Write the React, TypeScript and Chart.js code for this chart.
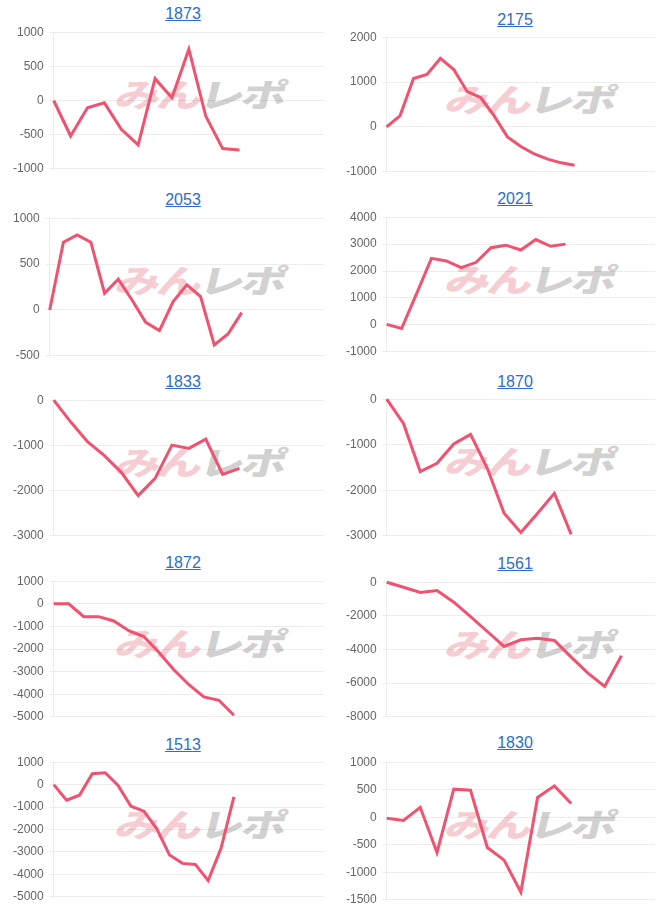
import React, { useEffect, useRef } from "react";
import { Chart, registerables } from "chart.js";

Chart.register(...registerables);

// ---------- data ----------
const labels17 = ["1","2","3","4","5","6","7","8","9","10","11","12","13","14","15","16","17"];
const labels19 = ["1","2","3","4","5","6","7","8","9","10","11","12","13","14","15","16","17","18","19"];
const labels21 = ["1","2","3","4","5","6","7","8","9","10","11","12","13","14","15","16","17","18","19","20","21"];
const labels22 = ["1","2","3","4","5","6","7","8","9","10","11","12","13","14","15","16","17","18","19","20","21","22"];

const titles = ["1873", "2175", "2053", "2021", "1833", "1870", "1872", "1561", "1513", "1830"];

const values1873 = [0, -520, -107, -34, -422, -650, 320, 40, 752, -228, -704, -723];
const values2175 = [0, 252, 1080, 1170, 1527, 1280, 786, 656, 252, -221, -435, -603, -717, -800, -855];
const values2053 = [0, 738, 818, 738, 182, 335, 109, -135, -225, 91, 273, 145, -382, -262, -29];
const values2021 = [20, -135, 1150, 2470, 2375, 2130, 2325, 2865, 2960, 2780, 3170, 2920, 3000];
const values1833 = [0, -478, -919, -1228, -1596, -2110, -1728, -993, -1066, -860, -1640, -1507];
const values1870 = [0, -533, -1590, -1408, -985, -774, -1518, -2504, -2927, -2504, -2066, -2970];
const values1872 = [0, 0, -570, -570, -760, -1190, -1450, -2140, -2920, -3580, -4120, -4270, -4930];
const values1561 = [0, -297, -614, -495, -1188, -2040, -2930, -3820, -3425, -3330, -3465, -4455, -5400, -6200, -4375];
const values1513 = [0, -696, -474, 489, 533, -40, -963, -1185, -1955, -3140, -3510, -3555, -4280, -2840, -550];
const values1830 = [-20, -60, 180, -640, 510, 490, -550, -780, -1360, 360, 570, 250];

const seriesList = [values1873, values2175, values2053, values2021, values1833, values1870, values1872, values1561, values1513, values1830];
const labelList = [labels17, labels21, labels21, labels19, labels17, labels17, labels19, labels17, labels22, labels17];

const yMin = [-1000, -1000, -500, -1000, -3000, -3000, -5000, -8000, -5000, -1500];
const yMax = [1000, 2000, 1000, 4000, 0, 0, 1000, 0, 1000, 1000];
const yStep = [500, 1000, 500, 1000, 1000, 1000, 1000, 2000, 1000, 500];

// ---------- layout (pixels) ----------
const titleCenterY = [14, 20, 200, 199, 382, 382, 563, 564, 745, 743];
const gridTopY = [32, 37, 218, 217, 400, 399, 581, 582, 762, 762];
const gridBottomY = [169, 172, 356, 352, 536, 536, 717, 717, 897, 900];
const colCanvasLeft = [7, 340];
const colCanvasWidth = [317, 315];
const colTitleCenterX = [183, 515];
const colMarkCenterX = [201, 531];
const PAD_V = 13;

const LINE_COLOR = "rgb(240, 82, 112)";
const FONT = "'Liberation Sans', Arial, Helvetica, sans-serif";

function MiniChart({ idx }: { idx: number }) {
  const ref = useRef<HTMLCanvasElement | null>(null);
  useEffect(() => {
    if (!ref.current) return;
    const chart = new Chart(ref.current, {
      type: "line",
      data: {
        labels: labelList[idx],
        datasets: [
          {
            data: seriesList[idx],
            borderColor: LINE_COLOR,
            backgroundColor: LINE_COLOR,
            borderWidth: 3,
            pointRadius: 0,
            pointHoverRadius: 0,
            pointHitRadius: 0,
            tension: 0,
            fill: false,
            clip: 4,
          },
        ],
      },
      options: {
        animation: false,
        responsive: false,
        maintainAspectRatio: false,
        plugins: { legend: { display: false }, tooltip: { enabled: false } },
        layout: { padding: 0, autoPadding: false },
        scales: {
          x: { display: false },
          y: {
            min: yMin[idx],
            max: yMax[idx],
            ticks: {
              stepSize: yStep[idx],
              color: "#666",
              padding: 6,
              font: { family: FONT, size: 12 },
              callback: (v: any) => String(v),
            },
            grid: { color: "rgba(0,0,0,0.07)", tickLength: 4 },
            border: { color: "rgba(0,0,0,0.08)" },
          },
        },
      },
    });
    return () => chart.destroy();
  }, [idx]);

  const col = idx % 2;
  const gTop = gridTopY[idx];
  const h = gridBottomY[idx] - gTop + PAD_V * 2;
  return (
    <>
      <div
        style={{
          position: "absolute",
          left: colTitleCenterX[col] - 60,
          width: 120,
          top: titleCenterY[idx] - 10,
          height: 20,
          lineHeight: "20px",
          textAlign: "center",
          fontFamily: FONT,
          fontSize: 16,
          color: "#2a6fc9",
          textDecoration: "underline",
        }}
      >
        {titles[idx]}
      </div>
      <div
        style={{
          position: "absolute",
          left: colMarkCenterX[col] - 110,
          width: 220,
          top: gTop + 61 - 24,
          height: 48,
          lineHeight: "48px",
          textAlign: "center",
          fontFamily: "'Noto Sans CJK JP', sans-serif",
          fontWeight: 900,
          fontSize: 45,
          letterSpacing: -3,
          transform: "skewX(-14deg) scale(1, 0.72)",
          whiteSpace: "nowrap",
        }}
      >
        <span style={{ color: "rgba(226, 110, 125, 0.34)" }}>みん</span>
        <span style={{ color: "rgba(110, 110, 110, 0.32)" }}>レポ</span>
      </div>
      <canvas
        ref={ref}
        width={colCanvasWidth[col]}
        height={h}
        style={{
          position: "absolute",
          left: colCanvasLeft[col],
          top: gTop - PAD_V,
          width: colCanvasWidth[col],
          height: h,
        }}
      />
    </>
  );
}

export default function App() {
  return (
    <div style={{ position: "absolute", left: 0, top: 0, width: 666, height: 914, background: "#fff" }}>
      {titles.map((_, i) => (
        <MiniChart key={i} idx={i} />
      ))}
    </div>
  );
}
